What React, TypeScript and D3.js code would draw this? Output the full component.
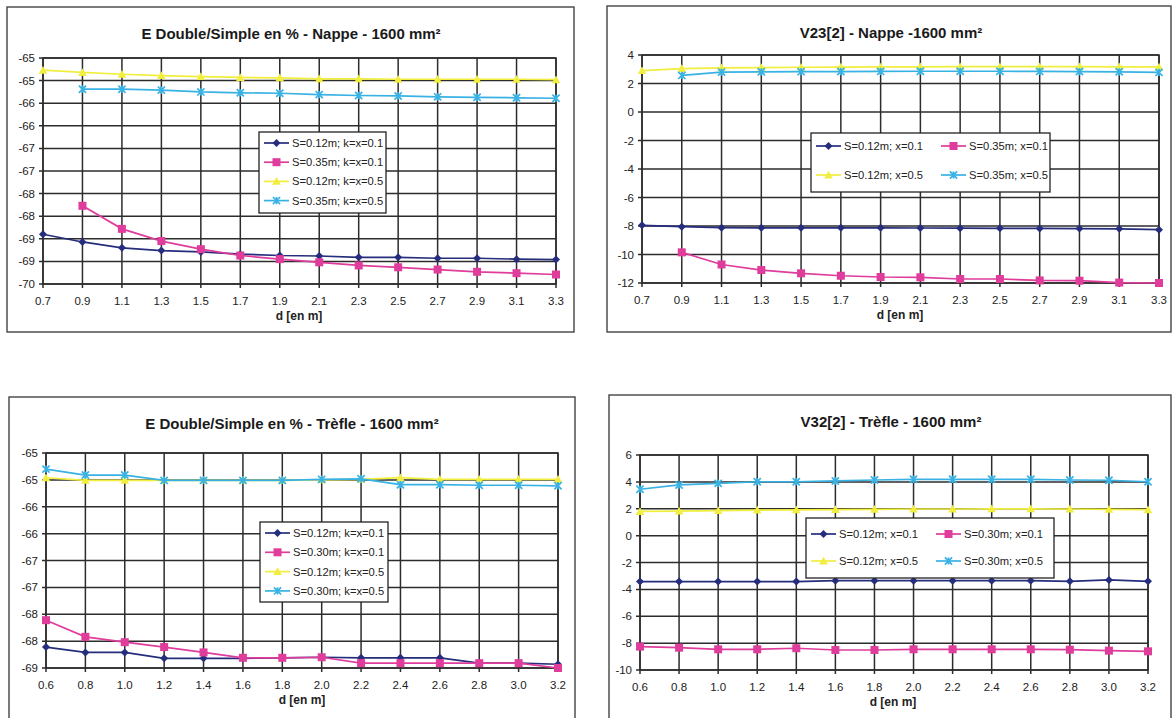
import React from "react";
import * as d3 from "d3";

// ---------- DATA ----------
const dNappe = [0.7, 0.9, 1.1, 1.3, 1.5, 1.7, 1.9, 2.1, 2.3, 2.5, 2.7, 2.9, 3.1, 3.3];
const dTrefle = [0.6, 0.8, 1.0, 1.2, 1.4, 1.6, 1.8, 2.0, 2.2, 2.4, 2.6, 2.8, 3.0, 3.2];

// Panel 1: E Double/Simple en % - Nappe
const eNappeS012k01 = [-68.4, -68.57, -68.7, -68.76, -68.79, -68.84, -68.87, -68.88, -68.91, -68.91, -68.93, -68.93, -68.95, -68.96];
const eNappeS035k01 = [null, -67.77, -68.28, -68.55, -68.73, -68.87, -68.95, -69.02, -69.09, -69.13, -69.18, -69.23, -69.26, -69.29];
const eNappeS012k05 = [-64.77, -64.82, -64.86, -64.89, -64.91, -64.93, -64.94, -64.96, -64.96, -64.97, -64.97, -64.97, -64.97, -64.98];
const eNappeS035k05 = [null, -65.19, -65.19, -65.21, -65.25, -65.27, -65.28, -65.31, -65.33, -65.34, -65.36, -65.37, -65.38, -65.39];

// Panel 2: V23[2] - Nappe
const vNappeS012x01 = [-7.95, -8.05, -8.12, -8.13, -8.13, -8.13, -8.13, -8.14, -8.15, -8.16, -8.17, -8.18, -8.2, -8.26];
const vNappeS035x01 = [null, -9.85, -10.7, -11.09, -11.32, -11.49, -11.58, -11.6, -11.72, -11.72, -11.82, -11.84, -11.97, -12.0];
const vNappeS012x05 = [2.9, 3.05, 3.1, 3.12, 3.14, 3.15, 3.16, 3.17, 3.18, 3.18, 3.18, 3.18, 3.17, 3.16];
const vNappeS035x05 = [null, 2.57, 2.8, 2.82, 2.83, 2.84, 2.85, 2.86, 2.86, 2.86, 2.85, 2.84, 2.82, 2.78];

// Panel 3: E Double/Simple en % - Trèfle
const eTrefleS012k01 = [-68.11, -68.21, -68.21, -68.32, -68.32, -68.32, -68.31, -68.3, -68.31, -68.31, -68.31, -68.41, -68.41, -68.43];
const eTrefleS030k01 = [-67.61, -67.92, -68.02, -68.11, -68.21, -68.31, -68.31, -68.3, -68.41, -68.41, -68.41, -68.41, -68.41, -68.5];
const eTrefleS012k05 = [-64.96, -65.01, -65.01, -65.01, -65.01, -65.01, -65.01, -65.0, -64.99, -64.96, -64.99, -64.99, -64.99, -64.99];
const eTrefleS030k05 = [-64.8, -64.91, -64.91, -65.01, -65.01, -65.01, -65.01, -64.99, -64.98, -65.09, -65.09, -65.1, -65.1, -65.11];

// Panel 4: V32[2] - Trèfle
const vTrefleS012x01 = [-3.42, -3.42, -3.42, -3.42, -3.42, -3.35, -3.35, -3.35, -3.35, -3.35, -3.35, -3.4, -3.3, -3.4];
const vTrefleS030x01 = [-8.26, -8.34, -8.46, -8.46, -8.38, -8.51, -8.51, -8.46, -8.46, -8.46, -8.46, -8.49, -8.56, -8.61];
const vTrefleS012x05 = [1.8, 1.82, 1.86, 1.9, 1.92, 1.94, 1.96, 1.98, 1.98, 1.99, 1.99, 1.98, 1.96, 1.93];
const vTrefleS030x05 = [3.45, 3.77, 3.89, 4.01, 4.01, 4.07, 4.14, 4.19, 4.19, 4.19, 4.19, 4.14, 4.12, 4.01];

// Tick values and labels
const eNappeYTicks = [-64.5, -65, -65.5, -66, -66.5, -67, -67.5, -68, -68.5, -69, -69.5];
const eNappeYLabels = ["-65", "-65", "-66", "-66", "-67", "-67", "-68", "-68", "-69", "-69", "-70"];
const vNappeYTicks = [4, 2, 0, -2, -4, -6, -8, -10, -12];
const eTrefleYTicks = [-64.5, -65, -65.5, -66, -66.5, -67, -67.5, -68, -68.5];
const eTrefleYLabels = ["-65", "-65", "-66", "-66", "-67", "-67", "-68", "-68", "-69"];
const vTrefleYTicks = [6, 4, 2, 0, -2, -4, -6, -8, -10];

const labelsNappeE = ["S=0.12m; k=x=0.1", "S=0.35m; k=x=0.1", "S=0.12m; k=x=0.5", "S=0.35m; k=x=0.5"];
const labelsNappeV = ["S=0.12m; x=0.1", "S=0.35m; x=0.1", "S=0.12m; x=0.5", "S=0.35m; x=0.5"];
const labelsTrefleE = ["S=0.12m; k=x=0.1", "S=0.30m; k=x=0.1", "S=0.12m; k=x=0.5", "S=0.30m; k=x=0.5"];
const labelsTrefleV = ["S=0.12m; x=0.1", "S=0.30m; x=0.1", "S=0.12m; x=0.5", "S=0.30m; x=0.5"];

// ---------- STYLE ----------
const COLORS = ["#252d7c", "#e03c9c", "#f1ee3e", "#38b2e4"];
const MARKERS = ["diamond", "square", "triangle", "x"];
const FONT = "'Liberation Sans', Arial, sans-serif";
const GRID = "#2c2c2c";

function MarkerShape({ kind, x, y, color }: { kind: string; x: number; y: number; color: string }) {
  if (kind === "diamond") {
    const s = 4;
    return <path d={`M${x},${y - s}L${x + s},${y}L${x},${y + s}L${x - s},${y}Z`} fill={color} />;
  }
  if (kind === "square") {
    const s = 4;
    return <rect x={x - s} y={y - s} width={2 * s} height={2 * s} fill={color} />;
  }
  if (kind === "triangle") {
    const s = 4.3;
    return <path d={`M${x},${y - s}L${x + s},${y + s * 0.8}L${x - s},${y + s * 0.8}Z`} fill={color} />;
  }
  const s = 3.6;
  return (
    <path
      d={`M${x - s},${y - s}L${x + s},${y + s}M${x - s},${y + s}L${x + s},${y - s}M${x},${y - s}L${x},${y + s}`}
      stroke={color}
      strokeWidth={1.7}
      fill="none"
    />
  );
}

interface PanelProps {
  box: [number, number, number, number];
  plot: { left: number; right: number; top: number; bottom: number };
  title: string;
  titleX: number;
  xs: number[];
  series: (number | null)[][];
  yTicks: number[];
  yLabels: string[];
  labels: string[];
  xLabelFmt: (v: number) => string;
  axisTitleX: number;
  legend: { x: number; y: number; w: number; h: number; cols: number; rowH: number; colW: number; firstRowY: number };
}

function Panel(p: PanelProps) {
  const { plot } = p;
  const x = d3.scaleLinear().domain([p.xs[0], p.xs[p.xs.length - 1]]).range([plot.left, plot.right]);
  const y = d3
    .scaleLinear()
    .domain([d3.min(p.yTicks) as number, d3.max(p.yTicks) as number])
    .range([plot.bottom, plot.top]);
  const line = d3
    .line<[number, number | null]>()
    .defined((d) => d[1] !== null)
    .x((d) => x(d[0]))
    .y((d) => y(d[1] as number));

  const [bx, by, bw, bh] = p.box;
  const lg = p.legend;
  return (
    <g>
      <rect x={bx} y={by} width={bw} height={bh} fill="#fff" stroke="#444" strokeWidth={1.4} />
      <text x={p.titleX} y={by + 32} textAnchor="middle" fontFamily={FONT} fontWeight="bold" fontSize={15} fill="#1a1a1a">
        {p.title}
      </text>
      {/* grid */}
      {p.yTicks.map((t, i) => (
        <g key={"y" + i}>
          <line x1={plot.left - 4} x2={plot.right} y1={y(t)} y2={y(t)} stroke={GRID} strokeWidth={1.5} />
          <text x={plot.left - 8} y={y(t) + 4} textAnchor="end" fontFamily={FONT} fontSize={11.5} fill="#222">
            {p.yLabels[i]}
          </text>
        </g>
      ))}
      {p.xs.map((t, i) => (
        <g key={"x" + i}>
          <line x1={x(t)} x2={x(t)} y1={plot.top} y2={plot.bottom + 4} stroke={GRID} strokeWidth={1.5} />
          <text x={x(t)} y={plot.bottom + 21} textAnchor="middle" fontFamily={FONT} fontSize={11.5} fill="#222">
            {p.xLabelFmt(t)}
          </text>
        </g>
      ))}
      <rect x={plot.left} y={plot.top} width={plot.right - plot.left} height={plot.bottom - plot.top} fill="none" stroke={GRID} strokeWidth={1.5} />
      <text x={p.axisTitleX} y={plot.bottom + 36} textAnchor="middle" fontFamily={FONT} fontWeight="bold" fontSize={12} fill="#222">
        d [en m]
      </text>
      {/* series */}
      {p.series.map((s, si) => {
        const pts = p.xs.map((xv, i) => [xv, s[i]] as [number, number | null]);
        return (
          <g key={"s" + si}>
            <path d={line(pts) || ""} fill="none" stroke={COLORS[si]} strokeWidth={1.7} />
            {pts
              .filter((d) => d[1] !== null)
              .map((d, i) => (
                <MarkerShape key={i} kind={MARKERS[si]} x={x(d[0])} y={y(d[1] as number)} color={COLORS[si]} />
              ))}
          </g>
        );
      })}
      {/* legend */}
      <rect x={lg.x} y={lg.y} width={lg.w} height={lg.h} fill="#fff" stroke="#222" strokeWidth={1.3} />
      {p.labels.map((lab, i) => {
        const col = i % lg.cols;
        const row = Math.floor(i / lg.cols);
        const lx = lg.x + 5 + col * lg.colW;
        const ly = lg.firstRowY + row * lg.rowH;
        return (
          <g key={"l" + i}>
            <line x1={lx} x2={lx + 25} y1={ly} y2={ly} stroke={COLORS[i]} strokeWidth={1.7} />
            <MarkerShape kind={MARKERS[i]} x={lx + 12.5} y={ly} color={COLORS[i]} />
            <text x={lx + 28} y={ly + 4} fontFamily={FONT} fontSize={11.2} fill="#222">
              {lab}
            </text>
          </g>
        );
      })}
    </g>
  );
}

const fmt1 = (v: number) => d3.format(".1f")(v);

export default function App() {
  return (
    <svg width={1174} height={718} style={{ position: "absolute", left: 0, top: 0, background: "#fff" }}>
      <Panel
        box={[7, 7, 567, 325]}
        plot={{ left: 43, right: 556, top: 58, bottom: 284 }}
        title="E Double/Simple en % - Nappe - 1600 mm²"
        titleX={291}
        xs={dNappe}
        series={[eNappeS012k01, eNappeS035k01, eNappeS012k05, eNappeS035k05]}
        yTicks={eNappeYTicks}
        yLabels={eNappeYLabels}
        labels={labelsNappeE}
        xLabelFmt={fmt1}
        axisTitleX={299}
        legend={{ x: 259, y: 132, w: 127, h: 81, cols: 1, rowH: 19.2, colW: 0, firstRowY: 143 }}
      />
      <Panel
        box={[607, 6, 564, 326]}
        plot={{ left: 642, right: 1159, top: 55, bottom: 283 }}
        title="V23[2] - Nappe -1600 mm²"
        titleX={891}
        xs={dNappe}
        series={[vNappeS012x01, vNappeS035x01, vNappeS012x05, vNappeS035x05]}
        yTicks={vNappeYTicks}
        yLabels={vNappeYTicks.map((v) => String(v))}
        labels={labelsNappeV}
        xLabelFmt={fmt1}
        axisTitleX={900}
        legend={{ x: 811, y: 133, w: 239, h: 59, cols: 2, rowH: 29, colW: 125, firstRowY: 146 }}
      />
      <Panel
        box={[9, 397, 566, 330]}
        plot={{ left: 46, right: 558, top: 453, bottom: 668 }}
        title="E Double/Simple en % - Trèfle - 1600 mm²"
        titleX={292}
        xs={dTrefle}
        series={[eTrefleS012k01, eTrefleS030k01, eTrefleS012k05, eTrefleS030k05]}
        yTicks={eTrefleYTicks}
        yLabels={eTrefleYLabels}
        labels={labelsTrefleE}
        xLabelFmt={fmt1}
        axisTitleX={302}
        legend={{ x: 260, y: 522, w: 128, h: 80, cols: 1, rowH: 19.3, colW: 0, firstRowY: 533 }}
      />
      <Panel
        box={[609, 395, 562, 332]}
        plot={{ left: 640, right: 1148, top: 455, bottom: 670 }}
        title="V32[2] - Trèfle - 1600 mm²"
        titleX={891}
        xs={dTrefle}
        series={[vTrefleS012x01, vTrefleS030x01, vTrefleS012x05, vTrefleS030x05]}
        yTicks={vTrefleYTicks}
        yLabels={vTrefleYTicks.map((v) => String(v))}
        labels={labelsTrefleV}
        xLabelFmt={fmt1}
        axisTitleX={893}
        legend={{ x: 806, y: 518, w: 248, h: 60, cols: 2, rowH: 27, colW: 125, firstRowY: 534 }}
      />
    </svg>
  );
}
